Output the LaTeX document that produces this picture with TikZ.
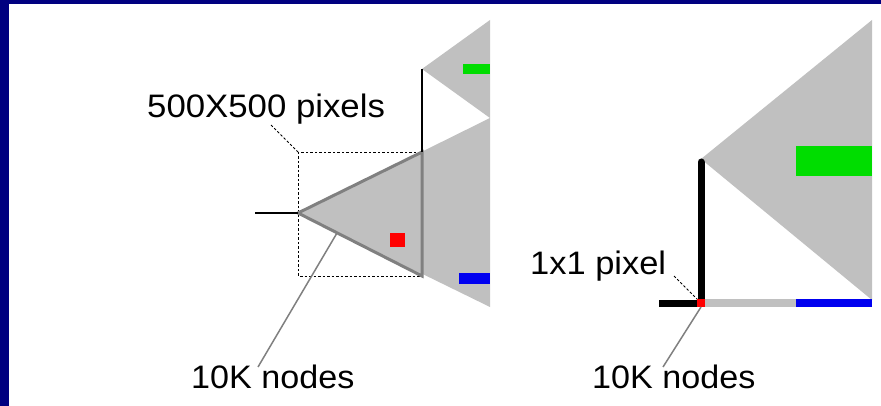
\documentclass[tikz,border=0pt]{standalone}
\usepackage{fontspec}
\setmainfont{Liberation Sans}
\definecolor{framenavy}{HTML}{000080}
\definecolor{cellgray}{HTML}{C0C0C0}
\definecolor{edgegray}{HTML}{808080}
\definecolor{pxred}{HTML}{FF0000}
\definecolor{pxgreen}{HTML}{00DD00}
\definecolor{pxblue}{HTML}{0000F0}
\begin{document}
\begin{tikzpicture}[x=1pt,y=-1pt,
  caption/.style={anchor=base west, inner sep=0pt, font=\fontsize{32.5}{36}\selectfont},
  thinblack/.style={line width=1.8pt},
  thickblack/.style={line width=7pt},
  pointer/.style={draw=edgegray, line width=1.5pt},
  dashlead/.style={line width=0.9pt, dash pattern=on 2.5pt off 2pt}]
\useasboundingbox (0,0) rectangle (881,406);
% page and frame
\fill[white] (0,0) rectangle (881,406);
\fill[framenavy] (0,0) rectangle (8.7,406);
\fill[framenavy] (0,0) rectangle (881,4);

% ---- left: quadtree cell of 500x500 pixels ----
\coordinate (apex) at (298,213);
\coordinate (tl) at (422,152);
\coordinate (bl) at (422,276);
\coordinate (up) at (422,69);
\coordinate (stub) at (255,213);
\fill[cellgray] (apex) -- (490,118) -- (490,307) -- cycle;
\fill[cellgray] (up) -- (490,20) -- (490,118) -- cycle;
\draw[dashlead] (298,152) rectangle (422,276);
\filldraw[fill=cellgray, draw=edgegray, line width=3pt, line join=miter] (apex) -- (tl) -- (bl) -- cycle;
\draw[thinblack] (stub) -- (apex);
\draw[thinblack] (up) -- (tl);
\fill[pxred] (390,233) rectangle (405,247);
\fill[pxgreen] (463,64) rectangle (490,74);
\fill[pxblue] (459,273) rectangle (490,284);

\node[caption] (boxlabel) at (147,117.7) {\scalebox{1.07}[1]{500X500 pixels}};
\coordinate (boxtip) at (271,125);
\draw[dashlead] (boxtip) -- (298,152);
\node[caption] (nodesA) at (191,388) {\scalebox{1.05}[1]{10K nodes}};
\coordinate (edgept) at (337,233);
\coordinate (nodesAtip) at (258,367);
\draw[pointer] (edgept) -- (nodesAtip);

% ---- right: single pixel ----
\coordinate (rapex) at (701,159);
\coordinate (corner) at (701,303);
\coordinate (rstub) at (659,303);
\fill[cellgray] (rapex) -- (872,20) -- (872,300) -- cycle;
\fill[pxgreen] (796,146) rectangle (872,176);
\fill[cellgray] (705,299) rectangle (796,307);
\fill[pxblue] (796,299) rectangle (872,307);
\draw[thickblack, line cap=round] (701,162) -- (corner);
\draw[thickblack] (rstub) -- (corner);
\fill[pxred] (697,299) rectangle (705,307);

\node[caption] (pixlabel) at (530,275) {\scalebox{1.06}[1]{1x1 pixel}};
\coordinate (pixtip) at (674,276);
\draw[dashlead] (pixtip) -- (697,299);
\node[caption] (nodesB) at (592,388) {\scalebox{1.05}[1]{10K nodes}};
\coordinate (pixbot) at (701,307);
\coordinate (nodesBtip) at (663,367);
\draw[pointer] (pixbot) -- (nodesBtip);
\end{tikzpicture}
\end{document}
